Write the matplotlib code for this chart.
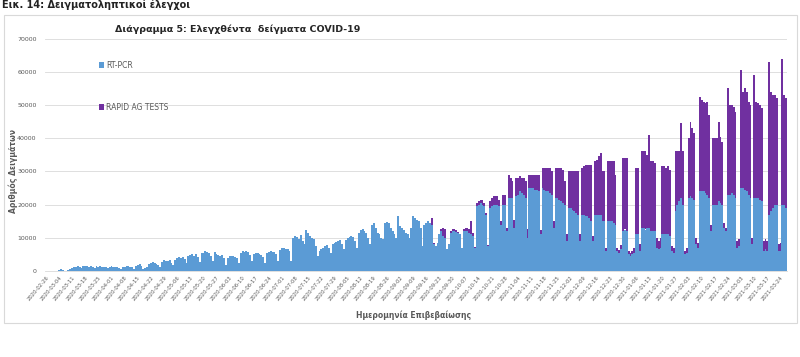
import matplotlib
matplotlib.use("Agg")
import matplotlib.pyplot as plt
import pandas as pd
import numpy as np
from matplotlib.patches import Rectangle

# daily samples, one row per week (Wed..Tue), starting 2020-02-26
pcr_weeks = [
    [0, 50, 0, 0, 0, 0, 100],
    [400, 600, 200, 100, 50, 300, 600],
    [900, 1200, 1300, 1500, 1100, 1000, 1400],
    [1500, 1400, 1300, 1400, 1200, 900, 1400],
    [1300, 1400, 1300, 1200, 1100, 800, 1300],
    [1400, 1300, 1200, 1300, 1000, 700, 1200],
    [1300, 1400, 1500, 1300, 1100, 700, 1400],
    [1800, 2200, 1500, 500, 800, 1200, 2000],
    [2400, 2600, 2500, 2200, 1800, 1300, 2600],
    [3200, 3000, 2900, 3300, 2500, 1800, 3300],
    [4000, 4300, 3800, 4200, 3500, 2500, 4400],
    [4800, 5000, 4600, 5200, 4200, 2800, 5300],
    [5500, 6100, 5700, 5300, 4500, 3000, 5600],
    [5000, 4800, 4600, 4700, 3800, 1800, 4000],
    [4500, 4400, 4600, 4300, 4000, 2500, 5500],
    [6000, 5800, 6000, 5600, 4800, 3000, 5200],
    [5300, 5500, 5100, 4800, 4200, 2500, 5500],
    [5800, 6000, 5700, 5600, 5000, 3000, 6300],
    [6800, 7000, 6700, 6500, 6000, 3000, 10000],
    [10500, 10200, 9500, 10800, 9000, 8000, 12300],
    [11500, 10500, 10000, 9500, 7500, 4500, 6000],
    [6500, 7000, 7500, 7800, 7000, 5500, 8200],
    [8500, 8800, 9000, 9400, 8000, 6500, 9200],
    [9800, 10200, 10500, 10300, 9000, 7000, 11300],
    [12500, 12800, 12000, 11500, 10000, 8000, 14000],
    [14500, 13000, 11500, 11000, 10000, 9500, 14500],
    [14800, 14500, 13000, 12000, 11000, 10000, 16500],
    [13500, 13000, 12500, 11500, 11000, 10000, 13000],
    [16500, 16000, 15500, 15000, 13000, 7500, 14000],
    [14500, 15000, 14500, 14000, 8000, 7500, 8500],
    [11000, 12000, 10500, 10000, 6500, 8000, 11500],
    [12000, 12000, 11800, 11500, 11000, 7000, 12000],
    [12000, 12000, 11500, 11000, 10500, 7000, 19500],
    [20000, 20500, 20000, 19500, 17000, 7500, 19000],
    [19500, 20000, 20000, 20000, 19500, 14000, 20000],
    [20000, 12000, 22000, 22000, 22000, 13000, 22500],
    [23000, 24000, 23500, 23000, 22000, 10000, 25000],
    [25000, 25000, 24500, 24500, 24000, 11000, 25000],
    [24500, 24000, 24000, 23500, 23000, 13000, 22000],
    [22000, 21500, 21000, 20500, 20000, 9000, 19000],
    [19000, 18500, 18000, 17500, 17000, 9000, 17000],
    [17000, 16500, 16500, 16000, 15000, 9000, 17000],
    [17000, 17000, 17000, 15000, 15000, 6000, 15000],
    [15000, 15000, 14500, 14000, 6000, 5500, 6500],
    [12000, 12500, 12000, 5000, 4500, 5000, 5500],
    [11000, 11000, 6000, 13000, 13000, 12500, 13000],
    [13000, 12000, 12000, 12000, 7000, 6500, 7000],
    [11000, 11000, 11000, 11000, 10500, 6000, 5500],
    [18000, 20000, 21000, 22000, 20000, 5000, 5500],
    [22000, 22500, 22000, 21500, 8000, 7000, 24000],
    [24000, 24000, 23500, 23000, 22000, 12000, 20000],
    [20000, 20000, 21000, 20500, 20000, 13000, 12000],
    [23000, 23000, 23500, 23000, 22000, 7000, 7500],
    [25000, 25000, 24500, 24000, 23000, 22000, 8000],
    [22000, 22000, 22000, 21500, 21000, 6000, 6500],
    [6000, 17000, 18000, 19000, 20000, 20000, 6000],
    [6000, 20000, 20000, 19000],
]

# rapid antigen tests: none before the week of 2020-09-16 (week 29)
rapid_weeks = [
    [0, 0, 0, 2000, 300, 0, 0],
    [0, 500, 2500, 2500, 0, 0, 500],
    [500, 500, 500, 300, 200, 0, 500],
    [1000, 1000, 1200, 4000, 1000, 300, 1000],
    [1000, 1000, 1500, 1000, 500, 300, 2000],
    [2500, 2500, 2500, 2500, 2000, 1000, 3000],
    [3000, 1000, 7000, 6000, 5000, 2500, 5500],
    [5000, 4500, 4500, 5000, 5000, 2500, 4000],
    [4000, 4000, 4500, 4500, 5000, 1500, 6000],
    [6500, 7000, 7000, 7500, 7000, 2000, 9000],
    [9000, 9500, 10000, 10000, 7000, 2000, 11000],
    [11000, 11500, 12000, 12500, 13000, 2000, 14000],
    [14500, 15500, 15500, 16000, 17000, 1500, 16000],
    [16500, 17500, 18400, 15000, 15000, 1000, 18000],
    [18000, 18000, 18500, 15000, 1000, 800, 1200],
    [22000, 21500, 22000, 1000, 800, 1000, 1500],
    [20000, 20000, 2000, 23000, 23000, 23500, 22000],
    [28000, 21000, 21000, 20500, 3000, 2500, 3000],
    [20500, 20500, 20000, 20500, 20000, 1500, 1500],
    [18000, 16000, 15000, 22600, 16000, 1000, 1500],
    [18000, 22500, 21000, 20000, 2000, 1500, 28500],
    [27500, 27000, 27000, 28000, 25000, 2000, 20000],
    [20000, 20000, 24000, 20000, 19000, 1500, 1000],
    [32000, 27000, 26500, 26500, 26000, 2000, 2000],
    [35500, 29000, 30500, 30000, 28000, 28000, 2000],
    [37000, 29000, 28500, 28500, 28000, 3000, 3000],
    [3000, 46000, 36000, 34000, 33000, 32000, 2000],
    [2500, 44000, 33000, 33000],
]
rapid_first_week = 29

pcr = np.array([v for w in pcr_weeks for v in w], dtype=float)
rapid = np.zeros_like(pcr)
rapid_vals = [v for w in rapid_weeks for v in w]
rapid[7 * rapid_first_week:7 * rapid_first_week + len(rapid_vals)] = rapid_vals

dates = pd.date_range("2020-02-26", periods=len(pcr), freq="D")
tick_idx = np.arange(0, len(pcr), 7)
tick_labels = [d.strftime("%Y-%m-%d") for d in dates[tick_idx]]

blue = "#5b9bd5"
purple = "#7030a0"
grey = "#595959"

fig = plt.figure(figsize=(8, 3.57), dpi=100)
ax = fig.add_axes([45 / 800, 1 - 271 / 357, 742 / 800, (271 - 38.6) / 357])

x = np.arange(len(pcr))
ax.bar(x, pcr, width=1.0, color=blue, linewidth=0, label="RT-PCR")
ax.bar(x, rapid, width=1.0, bottom=pcr, color=purple, linewidth=0,
       label="RAPID AG TESTS")

ax.set_xlim(-0.5, len(pcr) - 0.5)
ax.set_ylim(0, 70000)
ax.set_yticks(np.arange(0, 70001, 10000))
ax.tick_params(axis="y", length=0, labelsize=4.5, labelcolor=grey, pad=6)
ax.set_xticks(tick_idx)
ax.set_xticklabels(tick_labels, rotation=50, ha="right", va="top",
                   rotation_mode="anchor")
ax.tick_params(axis="x", length=0, labelsize=3.8, labelcolor=grey, pad=3)
ax.grid(axis="y", color="#d9d9d9", linewidth=0.6)
ax.set_axisbelow(True)
for s in ["top", "right", "left"]:
    ax.spines[s].set_visible(False)
ax.spines["bottom"].set_color("#d9d9d9")
ax.spines["bottom"].set_linewidth(0.6)

fig.text(13 / 800, 1 - 171 / 357, "Αριθμός Δειγμάτων", rotation=90,
         ha="center", va="center", fontsize=5.5, fontweight="bold", color=grey)
fig.text(414 / 800, 1 - 315 / 357, "Ημερομηνία Επιβεβαίωσης",
         ha="center", va="center", fontsize=5.5, fontweight="bold", color=grey)
fig.text(238 / 800, 1 - 29 / 357, "Διάγραμμα 5: Ελεγχθέντα  δείγματα COVID-19",
         ha="center", va="center", fontsize=6.8, fontweight="bold", color="#262626")
# heading above the chart (only its lower part is visible in the source)
fig.text(2 / 800, 1 - 8 / 357, "Εικ. 14: Δειγματοληπτικοί έλεγχοι",
         ha="left", va="baseline", fontsize=7, fontweight="bold", color="#222222")

leg = ax.legend(loc="upper left", bbox_to_anchor=(95 / 800, 1 - 57 / 357),
                bbox_transform=fig.transFigure, frameon=False, fontsize=5.5,
                labelspacing=4.3, handlelength=0.7, handleheight=0.7,
                handletextpad=0.3, borderpad=0)
for t in leg.get_texts():
    t.set_color(grey)

fig.patches.append(Rectangle((4 / 800, 1 - 323 / 357), 793 / 800, 308 / 357,
                             transform=fig.transFigure, fill=False,
                             edgecolor="#d9d9d9", linewidth=0.8))

fig.savefig("out.png", dpi=100)
